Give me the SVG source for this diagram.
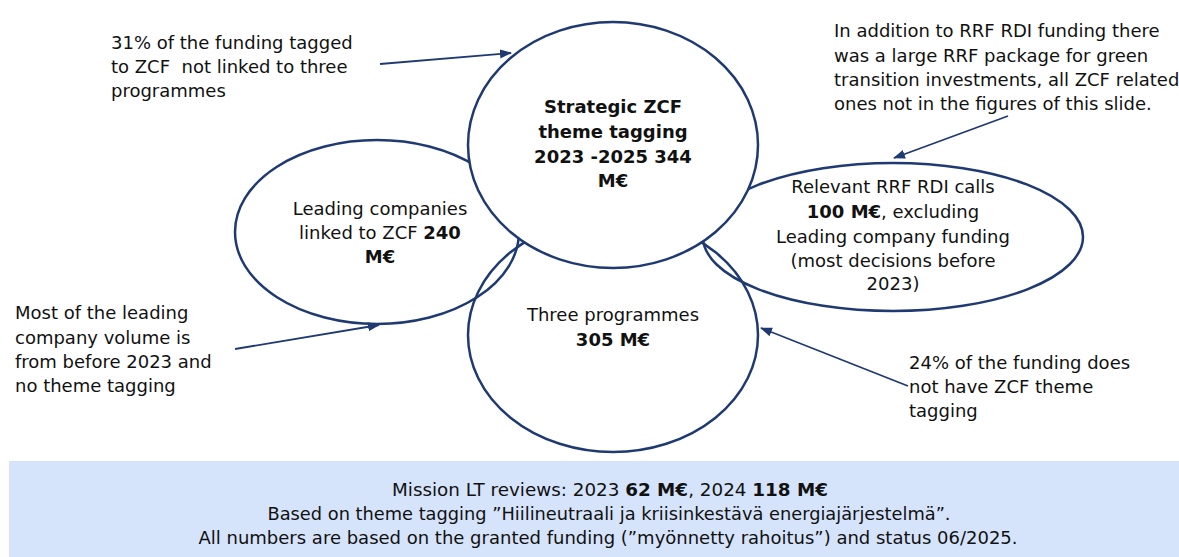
<svg xmlns="http://www.w3.org/2000/svg" width="1179" height="557" viewBox="0 0 1179 557">
<style>
.t{font-family:"DejaVu Sans",Verdana,sans-serif;font-size:18px;fill:#111;}
.c{text-anchor:middle;}
.b{font-weight:bold;}
.shape{fill:none;stroke:#1F3A73;stroke-width:2.5;}
.top{fill:#fff;stroke:#1F3A73;stroke-width:2.5;}
.conn{stroke:#1F3A73;stroke-width:1.8;fill:none;marker-end:url(#ah);}
.foot{font-family:"DejaVu Sans",Verdana,sans-serif;font-size:18px;fill:#111;text-anchor:middle;}
</style>
<defs>
<marker id="ah" markerUnits="userSpaceOnUse" markerWidth="12" markerHeight="10" refX="11" refY="4.5" orient="auto">
<path d="M0,0 L12,4.5 L0,9 z" fill="#1F3A73"/>
</marker>
</defs>
<rect x="9" y="461" width="1170" height="96" fill="#D6E4FB"/>
<g id="node-leading">
<ellipse class="shape" cx="377" cy="232" rx="142" ry="92"/>
<text class="t c" x="380" y="215">Leading companies</text>
<text class="t c" x="380" y="239">linked to ZCF <tspan class="b">240</tspan></text>
<text class="t c b" x="380" y="263">M€</text>
</g>
<g id="node-three">
<ellipse class="shape" cx="613" cy="335" rx="145" ry="117"/>
<text class="t c" x="613" y="321">Three programmes</text>
<text class="t c b" x="613" y="346">305 M€</text>
</g>
<g id="node-rrf">
<ellipse class="shape" cx="893" cy="237" rx="190" ry="74"/>
<text class="t c" x="893" y="193">Relevant RRF RDI calls</text>
<text class="t c" x="893" y="218"><tspan class="b">100 M€</tspan>, excluding</text>
<text class="t c" x="893" y="243">Leading company funding</text>
<text class="t c" x="893" y="267">(most decisions before</text>
<text class="t c" x="893" y="290">2023)</text>
</g>
<g id="node-strategic">
<ellipse class="top" cx="613" cy="145" rx="145" ry="123"/>
<text class="t c b" x="613" y="113">Strategic ZCF</text>
<text class="t c b" x="613" y="138">theme tagging</text>
<text class="t c b" x="613" y="163">2023 -2025 344</text>
<text class="t c b" x="613" y="187">M€</text>
</g>
<g id="note-31">
<text class="t" x="111" y="49">31% of the funding tagged</text>
<text class="t" x="111" y="73" xml:space="preserve">to ZCF  not linked to three</text>
<text class="t" x="111" y="97">programmes</text>
</g>
<g id="note-rrf">
<text class="t" x="834" y="37">In addition to RRF RDI funding there</text>
<text class="t" x="834" y="62">was a large RRF package for green</text>
<text class="t" x="834" y="86">transition investments, all ZCF related</text>
<text class="t" x="834" y="110">ones not in the figures of this slide.</text>
</g>
<g id="note-leading">
<text class="t" x="15" y="319">Most of the leading</text>
<text class="t" x="15" y="344">company volume is</text>
<text class="t" x="15" y="368">from before 2023 and</text>
<text class="t" x="15" y="392">no theme tagging</text>
</g>
<g id="note-24">
<text class="t" x="909" y="369">24% of the funding does</text>
<text class="t" x="909" y="393">not have ZCF theme</text>
<text class="t" x="909" y="417">tagging</text>
</g>
<g id="connectors">
<line class="conn" x1="380" y1="64" x2="511" y2="53"/>
<line class="conn" x1="1008" y1="116" x2="894" y2="158"/>
<line class="conn" x1="235" y1="349" x2="379" y2="325"/>
<line class="conn" x1="908" y1="386" x2="761" y2="328"/>
</g>
<g id="footer">
<text class="foot" x="610" y="496" textLength="436" lengthAdjust="spacingAndGlyphs">Mission LT reviews: 2023 <tspan class="b">62 M€</tspan>, 2024 <tspan class="b">118 M€</tspan></text>
<text class="foot" x="609" y="520" textLength="683" lengthAdjust="spacingAndGlyphs">Based on theme tagging ”Hiilineutraali ja kriisinkestävä energiajärjestelmä”.</text>
<text class="foot" x="608" y="544" textLength="819" lengthAdjust="spacingAndGlyphs">All numbers are based on the granted funding (”myönnetty rahoitus”) and status 06/2025.</text>
</g>
</svg>
